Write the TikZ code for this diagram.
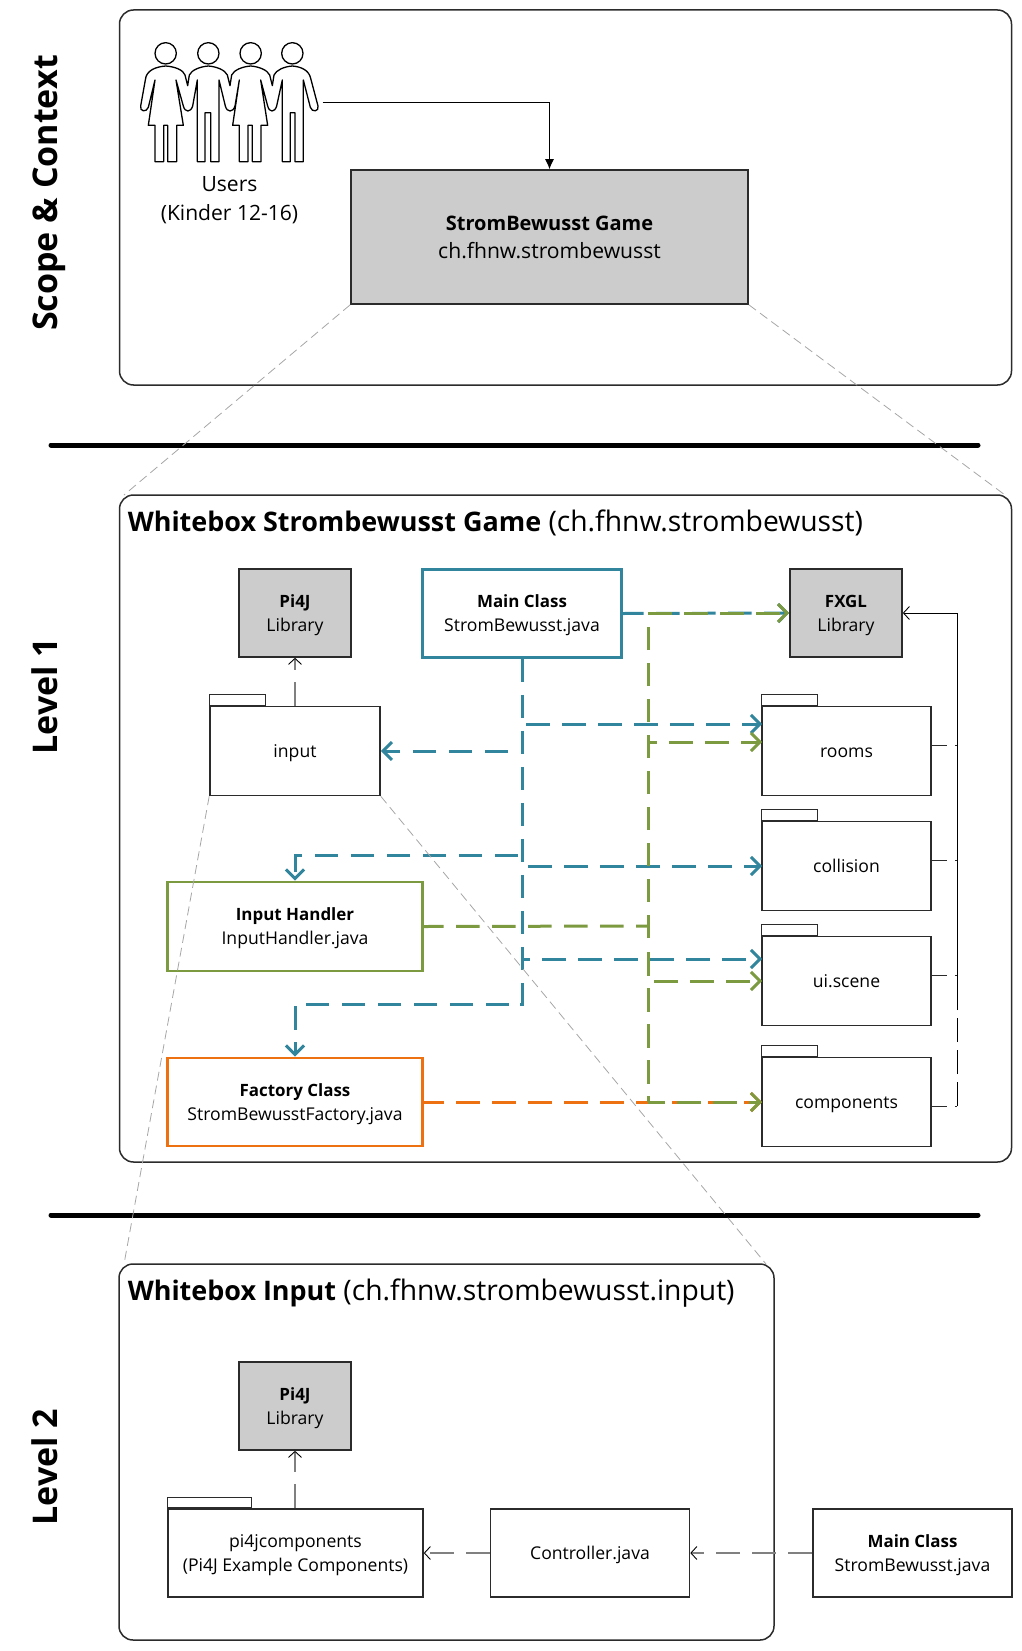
\documentclass[tikz,border=0pt]{standalone}
\usepackage{fontspec}
\setmainfont{Open Sans}
\usetikzlibrary{arrows.meta}
\def\px{0.75pt}
\definecolor{teal}{HTML}{31859C}
\definecolor{olive}{HTML}{7C9A40}
\definecolor{orng}{HTML}{ED7011}
\definecolor{lib}{HTML}{CCCCCC}
\definecolor{edge}{HTML}{2B2B2B}
\newcommand{\tl}[1]{\raisebox{-1.1pt}[\height][\depth]{\begin{tabular}{@{}c@{}}#1\end{tabular}}}
\newcommand{\hb}[1]{{\fontsize{12.7}{18}\selectfont\bfseries #1}}
\newcommand{\hbig}[1]{{\fontsize{15}{21}\selectfont\bfseries #1}}
\tikzset{
  frame/.style={draw=edge,line width=1.5*\px,rounded corners=14*\px,inner sep=0pt},
  box/.style={draw=edge,line width=1.6*\px,inner sep=0pt,font=\fontsize{13.2}{18}\selectfont},
  libbox/.style={box,fill=lib,minimum width=112*\px,minimum height=88*\px},
  codebox/.style={box,line width=2.8*\px,fill=white},
  pkg/.style={box,minimum width=169*\px,minimum height=89*\px},
  tabbox/.style={draw=edge,line width=1.2*\px,inner sep=0pt,anchor=south west,minimum height=10.5*\px,minimum width=#1},
  dep/.style={line width=3*\px,dash pattern=on 23.5*\px off 12.5*\px,-{Straight Barb[length=9*\px,width=18*\px,line width=3*\px]}},
  plain/.style={line width=3*\px,dash pattern=on 23.5*\px off 12.5*\px},
  thindep/.style={draw=black!50,line width=1.8*\px,dash pattern=on 24*\px off 12*\px,-{Straight Barb[length=6*\px,width=13*\px,line width=0.9*\px,black]}},
  stub/.style={draw=edge,line width=1*\px,dash pattern=on 15*\px off 8*\px},
  bussolid/.style={draw=black,line width=1*\px,-{Straight Barb[length=6*\px,width=13*\px,line width=0.9*\px]}},
  busdash/.style={draw=black,line width=1*\px,dash pattern=on 24*\px off 8*\px},
  zoomline/.style={draw=black!35,line width=0.8*\px,dash pattern=on 9*\px off 5*\px},
  side/.style={rotate=90,inner sep=0pt,anchor=base,font=\fontsize{25.5}{30}\selectfont\bfseries},
  title/.style={anchor=west,inner sep=0pt,font=\fontsize{21.2}{24}\selectfont},
  sep/.style={line width=5*\px,line cap=round},
}
\newcommand{\tb}[1]{{\fontsize{20.2}{24}\selectfont\bfseries #1}}
\begin{document}
\begin{tikzpicture}[x=\px,y=-\px]
\useasboundingbox (0,0) rectangle (1021,1651);
% side labels
\node[side] (lscope) at (57.5,193) {Scope \& Context};
\node[side] (lone) at (57.5,696) {Level 1};
\node[side] (ltwo) at (57.5,1467) {Level 2};
% frames
\node[frame,minimum width=892*\px,minimum height=375*\px] (fscope) at (565.5,197.5) {};
\node[frame,minimum width=892*\px,minimum height=667*\px] (fone) at (565.5,828.5) {};
\node[frame,minimum width=655*\px,minimum height=376*\px] (ftwo) at (446.5,1452) {};
% separators
\coordinate (s1a) at (51,445); \coordinate (s1b) at (978,445);
\coordinate (s2a) at (51,1215); \coordinate (s2b) at (978,1215);
\draw[sep] (s1a) -- (s1b);
\draw[sep] (s2a) -- (s2b);
% users
\begin{scope}[shift={(120,20)},x=0.25pt,y=-0.25pt,line width=1.3*\px,line join=round]
\foreach \c in {137,265,392,517}{\draw (\c,100) circle[radius=32*0.25pt];}
\draw (105,180) -- (85,262) .. controls (80,278) and (58,275) .. (62,258)
 -- (76,180) .. controls (78,150) and (110,140) .. (137,138)
 .. controls (165,140) and (190,150) .. (195,165) -- (203,197)
 -- (208,165) .. controls (215,150) and (240,140) .. (265,138)
 .. controls (290,140) and (315,150) .. (322,165) -- (330,197)
 -- (335,165) .. controls (342,150) and (367,140) .. (392,138)
 .. controls (417,140) and (442,150) .. (449,165) -- (457,197)
 -- (462,165) .. controls (469,150) and (492,140) .. (517,138)
 .. controls (542,140) and (567,150) .. (572,175) -- (594,258)
 .. controls (598,275) and (576,278) .. (571,262) -- (550,180)
 -- (550,425) -- (525,425) -- (525,278) -- (511,278) -- (511,425) -- (487,425) -- (487,180)
 -- (470,258) .. controls (464,278) and (448,278) .. (443,258) -- (422,180)
 -- (443,316) -- (423,316) -- (423,425) -- (397,425) -- (397,316) -- (384,316) -- (384,425) -- (358,425) -- (358,316) -- (338,316) -- (358,180)
 -- (345,258) .. controls (339,278) and (321,278) .. (316,258) -- (297,180)
 -- (297,425) -- (272,425) -- (272,278) -- (255,278) -- (255,425) -- (232,425) -- (232,180)
 -- (218,258) .. controls (212,278) and (195,278) .. (190,258) -- (168,180)
 -- (190,316) -- (170,316) -- (170,425) -- (143,425) -- (143,316) -- (131,316) -- (131,425) -- (105,425) -- (105,316) -- (85,316) -- cycle;
\end{scope}
\coordinate (usersout) at (322.5,102.5);
\node[inner sep=0pt,align=center,font=\fontsize{15.8}{22}\selectfont] (users) at (229.5,200) {Users\\(Kinder 12-16)};
\node[box,fill=lib,minimum width=397*\px,minimum height=134*\px,font=\fontsize{15.85}{21}\selectfont] (game) at (549.5,237) {\tl{\hbig{StromBewusst Game}\\ch.fhnw.strombewusst}};
\draw[line width=1*\px,-{Latex[length=10*\px,width=9*\px]}] (usersout) -| (game.north);
% titles
\node[title] (t1) at (127.5,523) {\tb{Whitebox Strombewusst Game} (ch.fhnw.strombewusst)};
\node[title] (t2) at (127.5,1293) {\tb{Whitebox Input} (ch.fhnw.strombewusst.input)};
% level 1 nodes
\node[libbox] (pi) at (295,613) {\tl{\hb{Pi4J}\\Library}};
\node[libbox] (fxgl) at (846,613) {\tl{\hb{FXGL}\\Library}};
\node[codebox,draw=teal,minimum width=199.5*\px,minimum height=88*\px] (main) at (522,613.5) {\tl{\hb{Main Class}\\StromBewusst.java}};
\node[pkg,minimum width=170*\px] (input) at (295,751) {\tl{input}};
\node[tabbox=56*\px] (inputtab) at (input.north west) {};
\node[pkg] (rooms) at (846.5,751) {\tl{rooms}};
\node[tabbox=56*\px] (roomstab) at (rooms.north west) {};
\node[pkg] (coll) at (846.5,866) {\tl{collision}};
\node[tabbox=56*\px] (colltab) at (coll.north west) {};
\node[pkg] (ui) at (846.5,981) {\tl{ui.scene}};
\node[tabbox=56*\px] (uitab) at (ui.north west) {};
\node[pkg] (comp) at (846.5,1102) {\tl{components}};
\node[tabbox=56*\px] (comptab) at (comp.north west) {};
\node[codebox,draw=olive,minimum width=255.5*\px,minimum height=89*\px] (ih) at (295,926.5) {\tl{\hb{Input Handler}\\InputHandler.java}};
\node[codebox,draw=orng,minimum width=255.5*\px,minimum height=88*\px] (fac) at (295,1102) {\tl{\hb{Factory Class}\\StromBewusstFactory.java}};
% named junctions
\coordinate (tv) at (main.south |- 0,1004);
\coordinate (g0) at (648,613);
\coordinate (gh) at (648,926);
\coordinate (roomsT) at (762,724); \coordinate (roomsG) at (762,742);
\coordinate (collT) at (762,866);
\coordinate (uiT) at (762,959); \coordinate (uiG) at (762,981);
\coordinate (compI) at (762,1102);
\coordinate (bus) at (957,613);
\coordinate (busmid) at (957,988);
% thin right bus
\foreach \a/\y in {rooms/745,coll/860,ui/975,comp/1106}{
  \draw[stub] (\a.east |- 0,\y) -- (957,\y);
}
\draw[bussolid] (busmid) -- (bus) -- (fxgl.east);
\draw[busdash] (957,1106) -- (busmid);
\draw[thindep] (input.north) -- (pi.south);
% teal
\draw[teal,plain] (main.south) -- (tv) -- +(-13,0);
\draw[teal,dep,dash phase=3*\px] (main.east) -- (fxgl.west);
\draw[teal,dep,dash phase=32*\px] (522,724) -- (roomsT);
\draw[teal,dep,dash phase=30*\px] (522,866) -- (collT);
\draw[teal,dep,dash phase=16*\px] (522,959) -- (uiT);
\draw[teal,dep] (508,751) -- (input.east);
\draw[teal,dep] (518,855) -| (ih.north);
\draw[teal,dep] (509,1004) -| (fac.north);
% orange
\draw[orng,dep,dash phase=4*\px] (fac.east) -- (compI);
% green
\draw[olive,plain,dash phase=4*\px] (ih.east) -- (gh);
\draw[olive,plain] (648,938) -- (648,627);
\draw[olive,plain] (648,952) -- (648,1102);
\draw[olive,dep] (g0) -- (fxgl.west);
\draw[olive,dep,dash phase=15*\px] (648,742) -- (roomsG);
\draw[olive,dep,dash phase=30*\px] (648,981) -- (uiG);
\draw[olive,dep,dash phase=7*\px] (648,1102) -- (compI);
% level 2 nodes
\node[libbox] (pib) at (295,1406) {\tl{\hb{Pi4J}\\Library}};
\node[pkg,minimum width=255*\px,minimum height=88*\px] (pic) at (295.5,1553) {\tl{pi4jcomponents\\(Pi4J Example Components)}};
\node[tabbox=84*\px] (pictab) at (pic.north west) {};
\node[box,minimum width=199*\px,minimum height=88*\px] (ctrl) at (590,1553) {\tl{Controller.java}};
\node[box,minimum width=199*\px,minimum height=88*\px] (mainb) at (912.5,1553) {\tl{\hb{Main Class}\\StromBewusst.java}};
\draw[thindep] (pic.north -| pib.south) -- (pib.south);
\draw[thindep] (ctrl.west) -- (pic.east);
\draw[thindep] (mainb.west) -- (ctrl.east);
% zoom lines
\coordinate (a1) at (124,495); \coordinate (a2) at (1005,495);
\coordinate (b1) at (124,1264); \coordinate (b2) at (766,1264);
\draw[zoomline] (game.south west) -- (a1);
\draw[zoomline] (game.south east) -- (a2);
\draw[zoomline] (input.south west) -- (b1);
\draw[zoomline] (input.south east) -- (b2);
\end{tikzpicture}
\end{document}
